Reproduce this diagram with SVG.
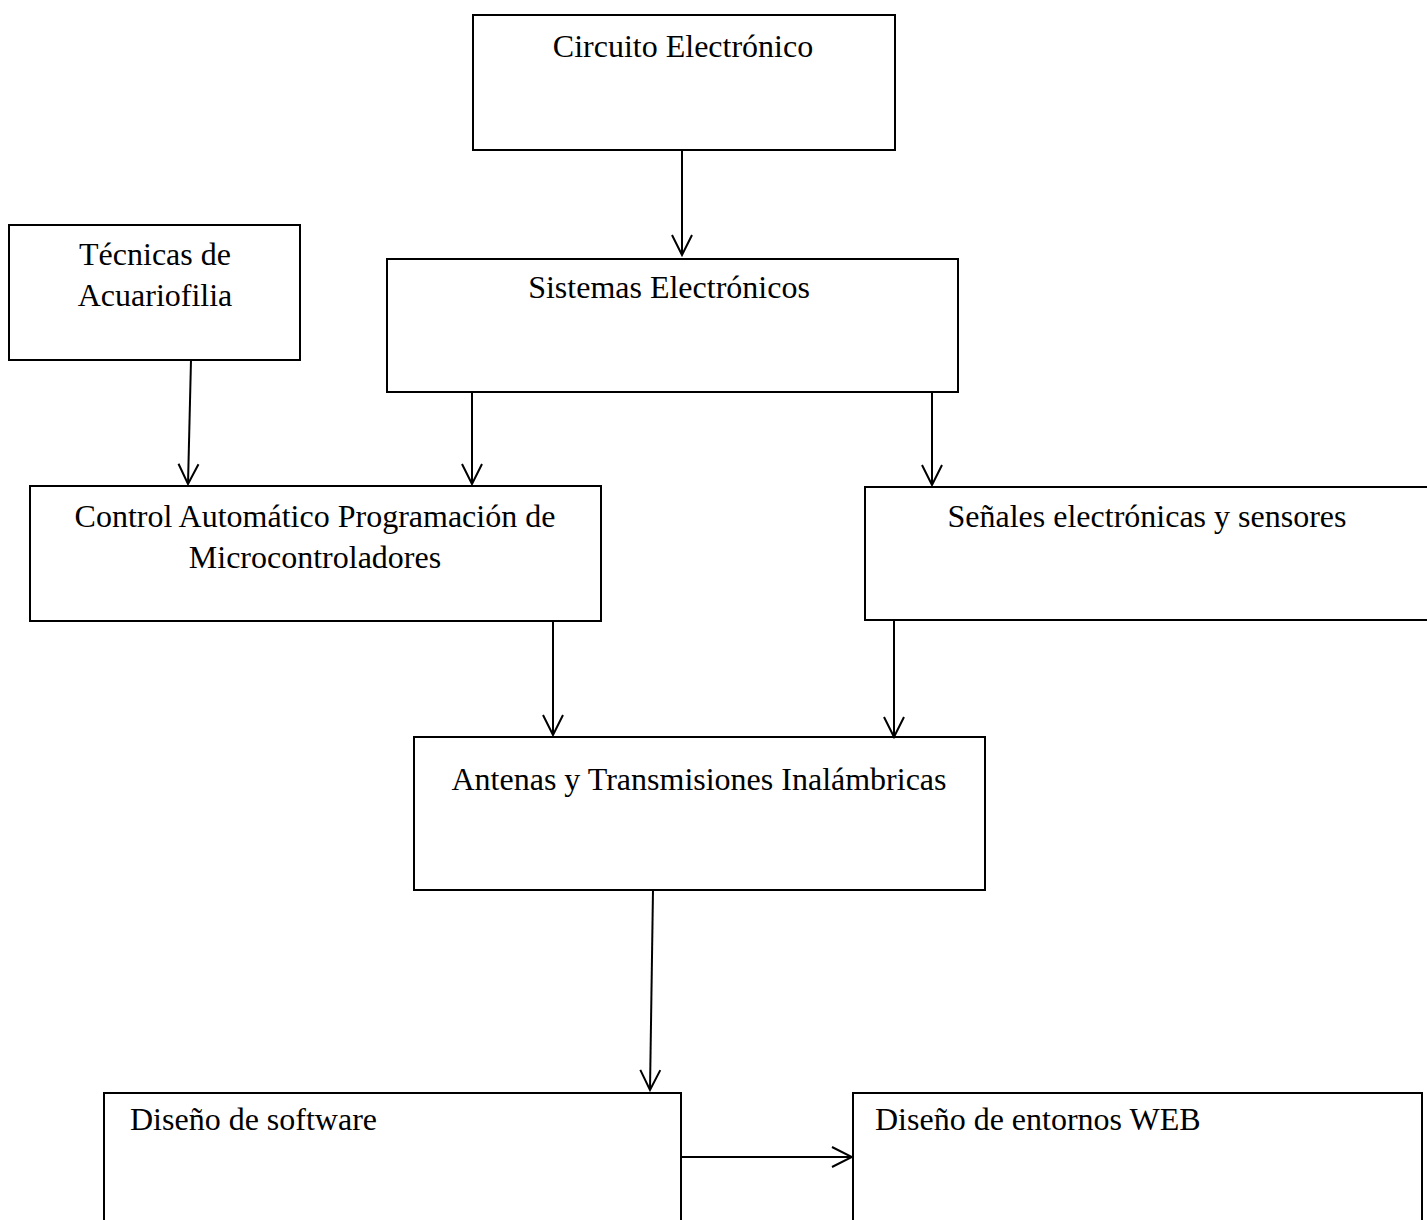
<svg xmlns="http://www.w3.org/2000/svg" width="1427" height="1220" viewBox="0 0 1427 1220">
<style>
.box{fill:#fff;stroke:#000;stroke-width:2}
.t{font-family:"Liberation Serif","Times New Roman",serif;font-size:32px;fill:#000}
.c{text-anchor:middle}
.edge{stroke:#000;stroke-width:2;fill:none;marker-end:url(#arr)}
</style>
<defs>
<marker id="arr" markerUnits="userSpaceOnUse" viewBox="0 0 24 24" refX="22" refY="12" markerWidth="24" markerHeight="24" orient="auto">
<path d="M2,2 L22,12 L2,22" fill="none" stroke="#000" stroke-width="2"/>
</marker>
</defs>
<rect width="1427" height="1220" fill="#fff"/>
<g id="n-circuito"><rect class="box" x="473" y="15" width="422" height="135"/><text class="t c" x="683" y="57">Circuito Electrónico</text></g>
<g id="n-sistemas"><rect class="box" x="387" y="259" width="571" height="133"/><text class="t c" x="669" y="298">Sistemas Electrónicos</text></g>
<g id="n-tecnicas"><rect class="box" x="9" y="225" width="291" height="135"/><text class="t c" x="155" y="265">Técnicas de</text><text class="t c" x="155" y="306">Acuariofilia</text></g>
<g id="n-control"><rect class="box" x="30" y="486" width="571" height="135"/><text class="t c" x="315" y="527">Control Automático Programación de</text><text class="t c" x="315" y="568">Microcontroladores</text></g>
<g id="n-senales"><rect class="box" x="865" y="487" width="570" height="133"/><text class="t c" x="1147" y="527">Señales electrónicas y sensores</text></g>
<g id="n-antenas"><rect class="box" x="414" y="737" width="571" height="153"/><text class="t c" x="699" y="790">Antenas y Transmisiones Inalámbricas</text></g>
<g id="n-software"><rect class="box" x="104" y="1093" width="577" height="140"/><text class="t" x="130" y="1130">Diseño de software</text></g>
<g id="n-web"><rect class="box" x="853" y="1093" width="569" height="140"/><text class="t" x="875" y="1130">Diseño de entornos WEB</text></g>
<g id="connectors">
<line class="edge" x1="682" y1="150" x2="682" y2="255"/>
<line class="edge" x1="191" y1="360" x2="188" y2="484"/>
<line class="edge" x1="472" y1="392" x2="472" y2="484"/>
<line class="edge" x1="932" y1="392" x2="932" y2="485"/>
<line class="edge" x1="553" y1="621" x2="553" y2="735"/>
<line class="edge" x1="894" y1="620" x2="894" y2="737"/>
<line class="edge" x1="653" y1="890" x2="650" y2="1090"/>
<line class="edge" x1="681" y1="1157" x2="852" y2="1157"/>
</g>
</svg>
